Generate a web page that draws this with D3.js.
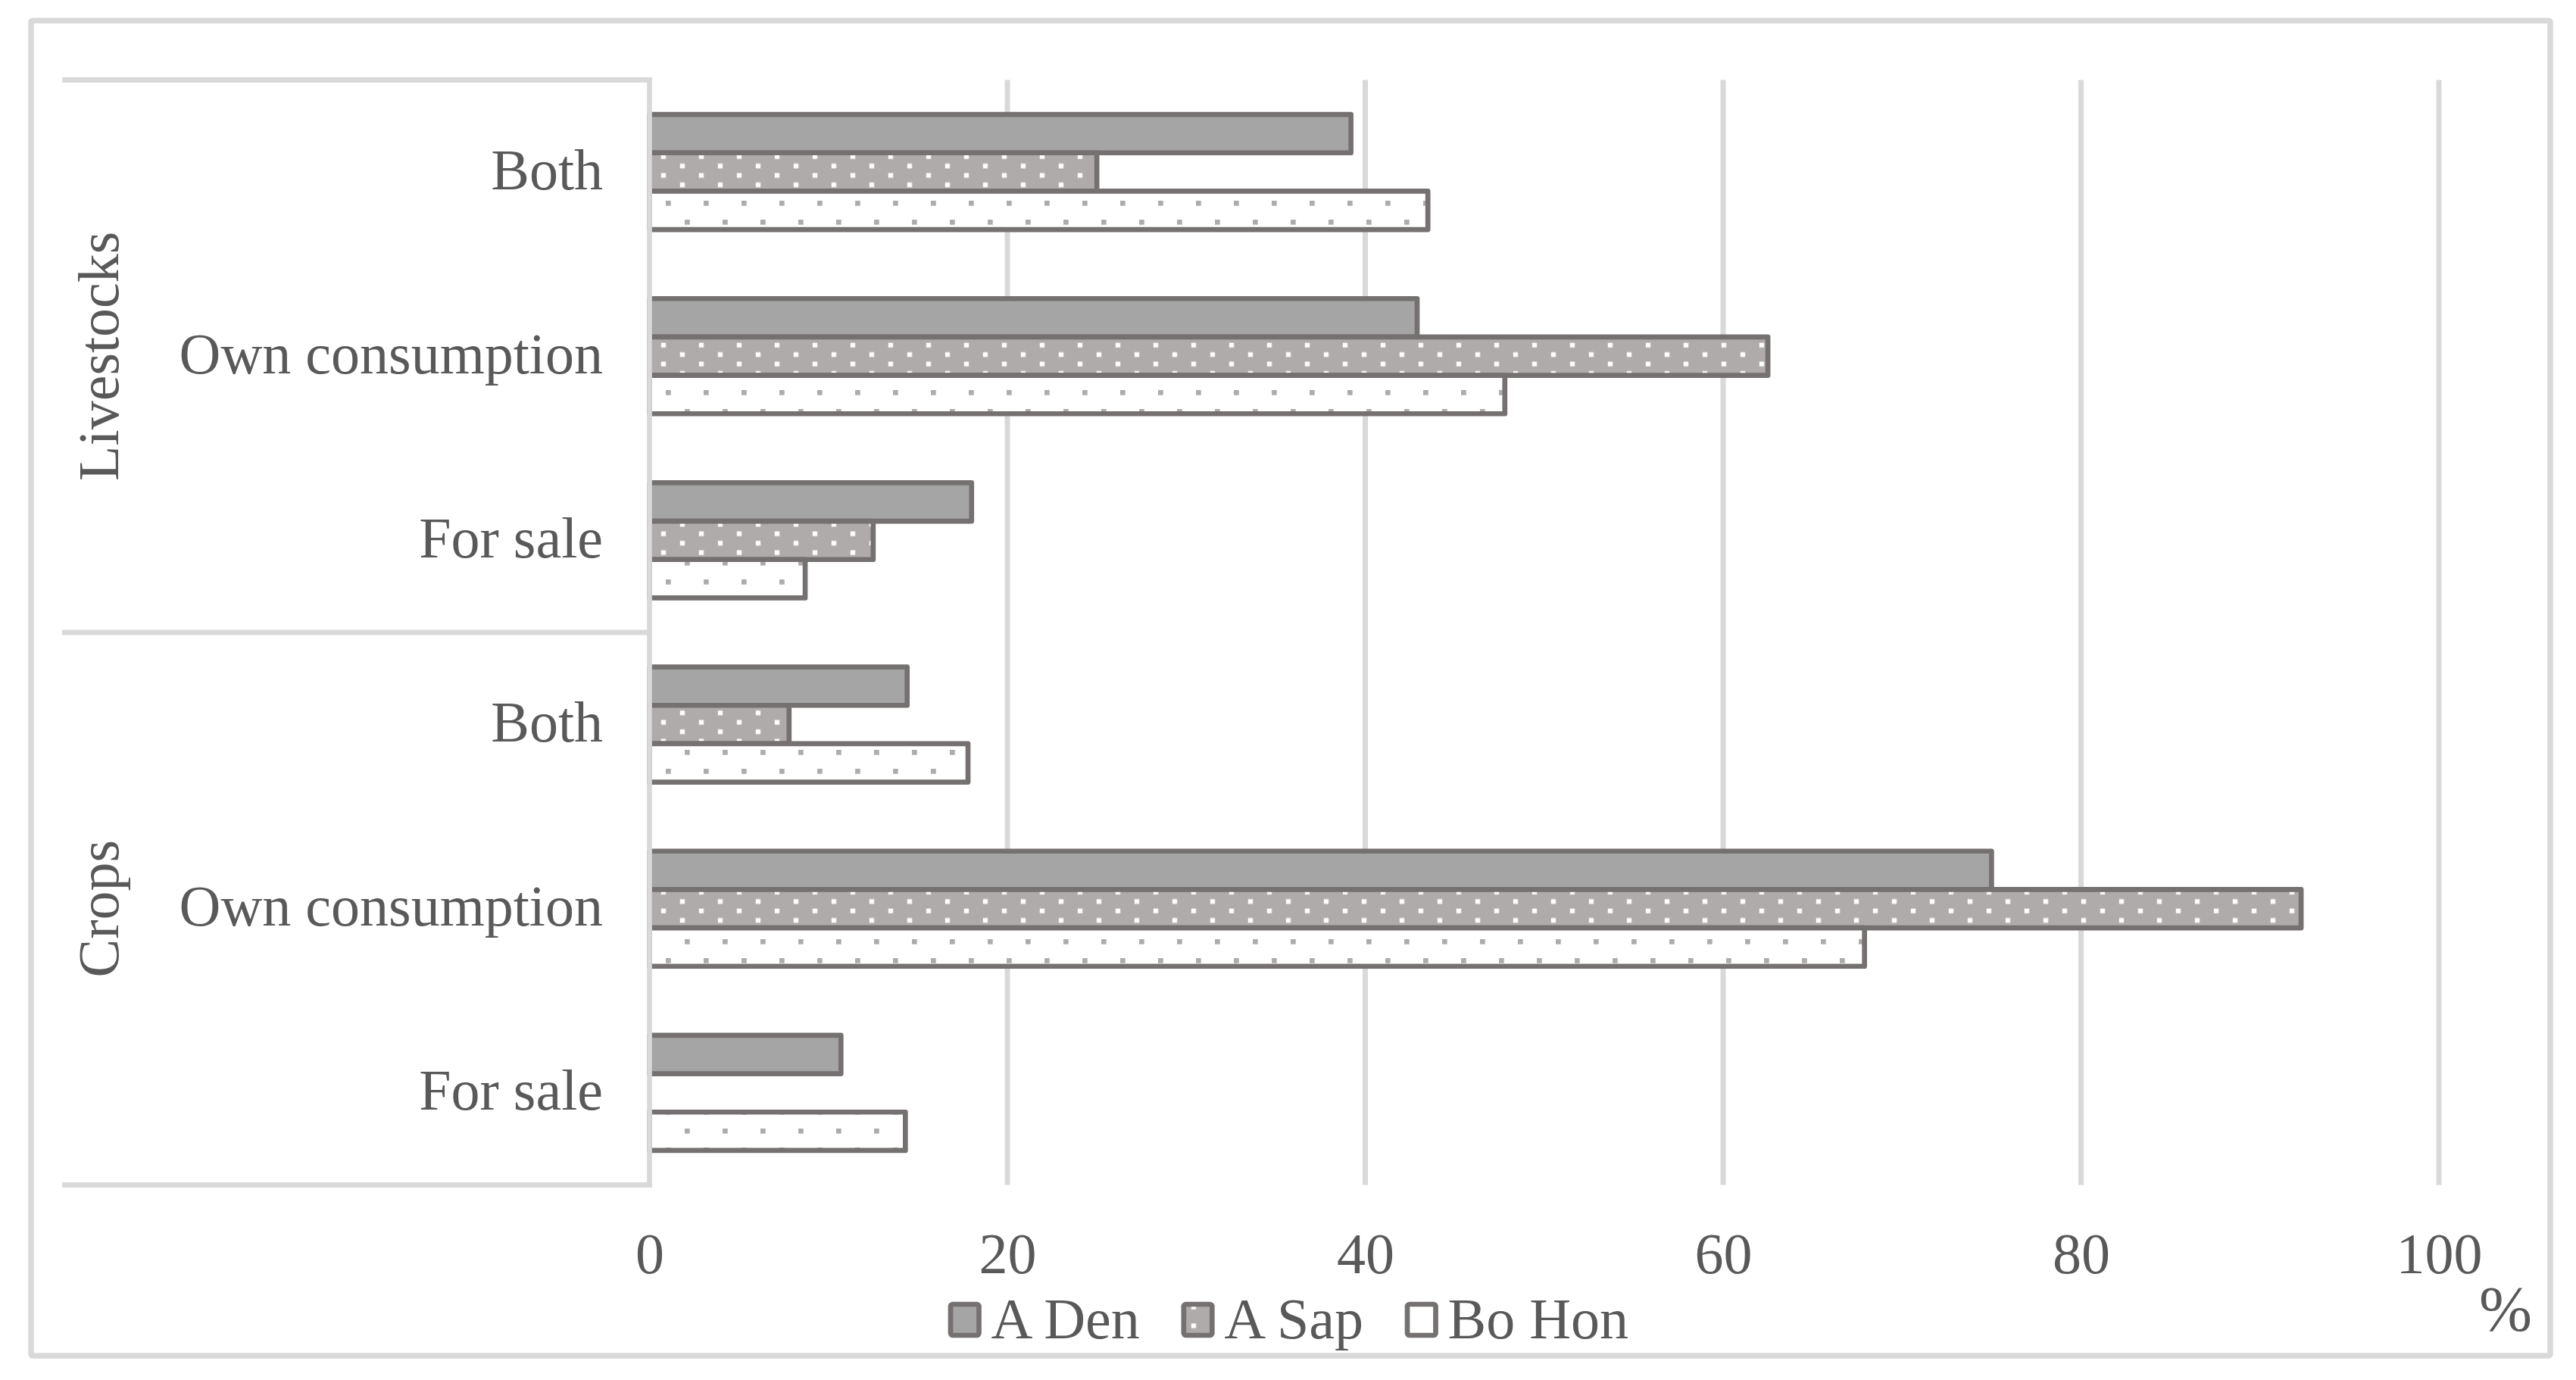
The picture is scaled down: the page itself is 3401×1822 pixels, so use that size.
<!DOCTYPE html>
<html>
<head>
<meta charset="utf-8">
<script src="https://cdn.jsdelivr.net/npm/d3@7"></script>
<style>
  html, body { margin: 0; padding: 0; background: #ffffff; }
  svg { display: block; }
</style>
</head>
<body>
<svg id="chart" width="3401" height="1822"></svg>
<script>
// ---------- data ----------
const groups = ["Livestocks", "Crops"];
const subCategories = ["Both", "Own consumption", "For sale"];
const seriesNames = ["A Den", "A Sap", "Bo Hon"];
// order: Livestocks Both, Own consumption, For sale, Crops Both, Own consumption, For sale
const aDen  = [39.2, 42.9, 18.0, 14.4, 75.0, 10.7];
const aSap  = [25.0, 62.5, 12.5,  7.8, 92.3,  0.0];
const boHon = [43.5, 47.8,  8.7, 17.8, 67.9, 14.3];
const xTicks = [0, 20, 40, 60, 80, 100];
const unitLabel = "%";

// ---------- layout ----------
const W = 3401, H = 1822;
const plot = { left: 857.5, right: 3220, top: 105.5, bottom: 1564.5 };
const FONT = "'Liberation Serif', 'Times New Roman', serif";
const TEXT = "#595959";
const GRID = "#d9d9d9";
const STROKE = "#767171";
const FS = 76;

const svg = d3.select("#chart");

// categories (unique keys)
const cats = [];
groups.forEach(g => subCategories.forEach(s => cats.push({ group: g, label: s, key: g + "|" + s })));
const seriesValues = [aDen, aSap, boHon];
const data = cats.map((c, i) => ({ ...c, values: seriesNames.map((s, j) => ({ series: s, j, value: seriesValues[j][i] })) }));

const x = d3.scaleLinear().domain([0, 100]).range([plot.left, plot.right]);
const y0 = d3.scaleBand().domain(cats.map(c => c.key)).range([plot.top, plot.bottom])
  .paddingInner(0.375).paddingOuter(0.1875);
const y1 = d3.scaleBand().domain(seriesNames).range([0, y0.bandwidth()]).padding(0);

// ---------- patterns ----------
const defs = svg.append("defs");
const pSap = defs.append("pattern").attr("id", "patSap").attr("patternUnits", "userSpaceOnUse")
  .attr("x", 872.8).attr("y", 203.6).attr("width", 50).attr("height", 24.9);
pSap.append("rect").attr("width", 50).attr("height", 24.9).attr("fill", "#afabab");
pSap.append("rect").attr("x", 0).attr("y", 0).attr("width", 6.3).attr("height", 6.2).attr("fill", "#ffffff");
pSap.append("rect").attr("x", 25).attr("y", 12.45).attr("width", 6.3).attr("height", 6.2).attr("fill", "#ffffff");

const pHon = defs.append("pattern").attr("id", "patHon").attr("patternUnits", "userSpaceOnUse")
  .attr("x", 879).attr("y", 265).attr("width", 50).attr("height", 50);
pHon.append("rect").attr("width", 50).attr("height", 50).attr("fill", "#ffffff");
pHon.append("rect").attr("x", 0).attr("y", 0).attr("width", 6.7).attr("height", 6.7).attr("fill", "#afabab");
pHon.append("rect").attr("x", 25).attr("y", 25).attr("width", 6.7).attr("height", 6.7).attr("fill", "#afabab");

const fills = { "A Den": "#a5a5a5", "A Sap": "url(#patSap)", "Bo Hon": "url(#patHon)" };

// ---------- outer border ----------
svg.append("rect").attr("x", 41).attr("y", 27.3).attr("width", 3367 - 41).attr("height", 1790 - 27.3)
  .attr("rx", 2).attr("fill", "#ffffff").attr("stroke", GRID).attr("stroke-width", 7.5);

// ---------- gridlines ----------
svg.append("g").selectAll("line").data(xTicks.filter(t => t > 0)).join("line")
  .attr("x1", d => x(d)).attr("x2", d => x(d))
  .attr("y1", plot.top).attr("y2", plot.bottom)
  .attr("stroke", GRID).attr("stroke-width", 7);

// ---------- bars ----------
const gBars = svg.append("g");
seriesNames.forEach((s, j) => {
  gBars.append("g").selectAll("rect")
    .data(data.map(d => ({ key: d.key, v: d.values[j] })).filter(d => d.v.value > 0))
    .join("rect")
    .attr("x", x(0))
    .attr("y", d => y0(d.key) + y1(s))
    .attr("width", d => x(d.v.value) - x(0))
    .attr("height", y1.bandwidth())
    .attr("fill", fills[s])
    .attr("stroke", STROKE)
    .attr("stroke-width", 6.7)
    .attr("stroke-linejoin", "round");
});

// ---------- category axis (multi-level) ----------
const gCat = svg.append("g");
const axisLineX0 = 82;
// horizontal separators: top, between groups, bottom
const sepY = [plot.top, plot.top + (plot.bottom - plot.top) / 2, plot.bottom];
gCat.selectAll("line.sep").data(sepY).join("line")
  .attr("x1", axisLineX0).attr("x2", x(0) + 3.3)
  .attr("y1", d => d).attr("y2", d => d)
  .attr("stroke", GRID).attr("stroke-width", 7);
// vertical axis line at 0
gCat.append("line").attr("x1", x(0)).attr("x2", x(0))
  .attr("y1", plot.top - 3.5).attr("y2", plot.bottom + 3.5)
  .attr("stroke", GRID).attr("stroke-width", 6.7);

// sub category labels
gCat.selectAll("text.sub").data(cats).join("text")
  .attr("x", 796)
  .attr("y", d => y0(d.key) + y0.bandwidth() / 2 + 22.5)
  .attr("text-anchor", "end")
  .attr("font-family", FONT).attr("font-size", FS).attr("fill", TEXT)
  .text(d => d.label);

// group labels (rotated)
groups.forEach((g, i) => {
  const keys = cats.filter(c => c.group === g).map(c => c.key);
  const top = y0(keys[0]) - y0.step() * y0.paddingOuter();
  const bot = y0(keys[keys.length - 1]) + y0.bandwidth() + y0.step() * y0.paddingOuter();
  const cy = (top + bot) / 2;
  gCat.append("text")
    .attr("transform", `translate(156, ${cy}) rotate(-90)`)
    .attr("text-anchor", "middle")
    .attr("font-family", FONT).attr("font-size", FS).attr("fill", TEXT)
    .text(g);
});

// ---------- value axis ----------
const xAxis = d3.axisBottom(x).tickValues(xTicks).tickSize(0).tickPadding(0).tickFormat(d3.format("d"));
const gx = svg.append("g").attr("transform", `translate(0, ${plot.bottom})`).call(xAxis);
gx.select(".domain").remove();
gx.selectAll("text")
  .attr("y", 1681 - plot.bottom).attr("dy", null)
  .attr("font-family", FONT).attr("font-size", FS).attr("fill", TEXT);

// unit label
svg.append("text").attr("x", 3273).attr("y", 1757)
  .attr("font-family", FONT).attr("font-size", 84).attr("fill", TEXT)
  .text(unitLabel);

// ---------- legend ----------
const gLeg = svg.append("g");
let lx = 1255;
const keyW = 37.5, keyH = 41, keyY = 1722;
seriesNames.forEach((s, j) => {
  const item = gLeg.append("g");
  item.append("rect").attr("x", lx).attr("y", keyY).attr("width", keyW).attr("height", keyH)
    .attr("rx", 3).attr("fill", fills[s]).attr("stroke", STROKE).attr("stroke-width", 6.7);
  const t = item.append("text").attr("x", lx + keyW + 16).attr("y", 1767)
    .attr("font-family", FONT).attr("font-size", FS).attr("fill", TEXT).text(s);
  lx = lx + keyW + 16 + t.node().getComputedTextLength() + 58;
});
</script>
</body>
</html>
